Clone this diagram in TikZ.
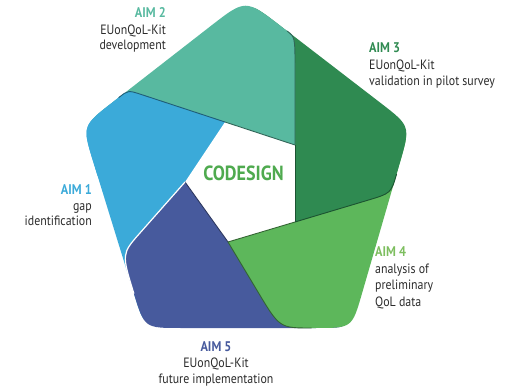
\documentclass[tikz,border=0pt]{standalone}
\usepackage{fontspec}
\setmainfont{PT Sans}[FakeStretch=0.88]
\usetikzlibrary{calc}
\definecolor{lbC}{HTML}{3BAAD9}
\definecolor{tealC}{HTML}{58B9A0}
\definecolor{dgC}{HTML}{2F8A51}
\definecolor{gC}{HTML}{5DB75B}
\definecolor{dbC}{HTML}{475A9D}
\definecolor{txtC}{HTML}{2B2B2B}
\definecolor{codeC}{HTML}{4FAA4F}
\definecolor{aimfour}{HTML}{7DBE5F}
\newcommand\rndc[5]{-- ($(#1)!#4!(#2)$) .. controls (#1) .. ($(#1)!#5!(#3)$)}
\begin{document}
\begin{tikzpicture}[x=1pt,y=-1pt,
  aim/.style={font=\bfseries\fontsize{14}{16}\selectfont, inner sep=0pt},
  body/.style={font=\fontsize{13.5}{16}\selectfont, text=txtC, inner sep=0pt},
  edgeln/.style={line width=0.9pt}]
\useasboundingbox (0,0) rectangle (514,387);
% outer pentagon
\coordinate (V1) at (245.5,-1);
\coordinate (V2) at (410.5,126);
\coordinate (V3) at (352,328);
\coordinate (V4) at (144.5,328);
\coordinate (V5) at (82.2,126);
\coordinate (O) at (245,183);
% inner pentagon
\coordinate (Pa) at (225,122);
\coordinate (Pb) at (295,145);
\coordinate (Pc) at (295,222);
\coordinate (Pd) at (228,242);
\coordinate (Pe) at (185,182);
% leading corners
\coordinate (Ca) at (128.2,90.2);
\coordinate (Cb) at (295,37.1);
\coordinate (Cc) at (391,193.3);
\coordinate (Cd) at (279.6,328);
\coordinate (Ce) at (121.6,253.8);
\coordinate (D0) at ($(Pe)!-18pt!(Ce)$);
\coordinate (G0) at ($(Pd)!-12pt!(Cd)$);
% blades
\fill[lbC] (Pa) \rndc{Ca}{Pa}{V5}{14pt}{12pt} \rndc{V5}{V1}{V4}{38pt}{38pt} \rndc{V4}{V5}{O}{36pt}{36pt} -- (O) -- cycle;
\fill[dbC] (D0) \rndc{Ce}{Pe}{V4}{28pt}{41.7pt} \rndc{V4}{V5}{V3}{36pt}{36pt} \rndc{V3}{V4}{O}{36pt}{36pt} -- (O) -- cycle;
\fill[gC] (G0) \rndc{Cd}{Pd}{V3}{42pt}{32pt} \rndc{V3}{V4}{V2}{36pt}{36pt} \rndc{V2}{V3}{O}{38pt}{38pt} -- (O) -- cycle;
\fill[dgC] (Pd) \rndc{Cc}{Pc}{V2}{25pt}{20pt} \rndc{V2}{V3}{V1}{38pt}{38pt} \rndc{V1}{V2}{O}{44pt}{44pt} -- (O) -- cycle;
\fill[tealC] (Pc) \rndc{Cb}{Pb}{V1}{32pt}{10pt} \rndc{V1}{V2}{V5}{44pt}{44pt} \rndc{V5}{V1}{O}{38pt}{38pt} -- (O) -- cycle;
\begin{scope}
\clip (0,-20) rectangle (300,176);
\fill[lbC] (Pa) \rndc{Ca}{Pa}{V5}{14pt}{12pt} \rndc{V5}{V1}{V4}{38pt}{38pt} \rndc{V4}{V5}{O}{36pt}{36pt} -- (O) -- cycle;
\end{scope}
% centre
\fill[white] (Pa) -- (Pb) -- (Pc) -- (Pd) -- (Pe) -- cycle;
% edge lines
\draw[edgeln, tealC!55!black] (Pa) -- (Pb);
\draw[edgeln, dgC!60!black] (Pb) -- (Pc);
\draw[edgeln, gC!55!black] (Pc) -- (Pd);
\draw[edgeln, dbC!60!black] (Pd) -- (Pe);
\draw[white, line width=1.2pt] (Pe) \rndc{Ce}{Pe}{V4}{28pt}{41.7pt};
\draw[edgeln, gC!55!black] (Pd) \rndc{Cd}{Pd}{V3}{42pt}{32pt};
\draw[edgeln, dgC!60!black] (Pc) \rndc{Cc}{Pc}{V2}{25pt}{20pt};
\draw[edgeln, tealC!55!black] (Pb) \rndc{Cb}{Pb}{V1}{32pt}{10pt};
\draw[edgeln, lbC!55!black] (Pa) \rndc{Ca}{Pa}{V5}{14pt}{12pt};
% centre text
\node[font=\bfseries\fontsize{20.5}{22}\selectfont, text=codeC, anchor=base, inner sep=0pt] (cd) at (243.5,181) {CODESIGN};
% labels
\node[aim, text=tealC, anchor=base east] (a2) at (166,18) {AIM 2};
\node[body, anchor=base east] (a2l1) at (166,35) {EUonQoL-Kit};
\node[body, anchor=base east] (a2l2) at (166,50) {development};
\node[aim, text=dgC, anchor=base west] (a3) at (369,53) {AIM 3};
\node[body, anchor=base west] (a3l1) at (369,70) {EUonQoL-Kit};
\node[body, anchor=base west] (a3l2) at (369,85.5) {validation in pilot survey};
\node[aim, text=lbC, anchor=base east] (a1) at (92,195) {AIM 1};
\node[body, anchor=base east] (a1l1) at (92,211) {gap};
\node[body, anchor=base east] (a1l2) at (92,226) {identification};
\node[aim, text=aimfour, anchor=base west] (a4) at (375,257) {AIM 4};
\node[body, anchor=base west] (a4l1) at (375,274) {analysis of};
\node[body, anchor=base west] (a4l2) at (375,290) {preliminary};
\node[body, anchor=base west] (a4l3) at (375,307) {QoL data};
\node[aim, text=dbC, anchor=base] (a5) at (216,351) {AIM 5};
\node[body, anchor=base] (a5l1) at (216,367) {EUonQoL-Kit};
\node[body, anchor=base] (a5l2) at (216,383) {future implementation};
\end{tikzpicture}
\end{document}
